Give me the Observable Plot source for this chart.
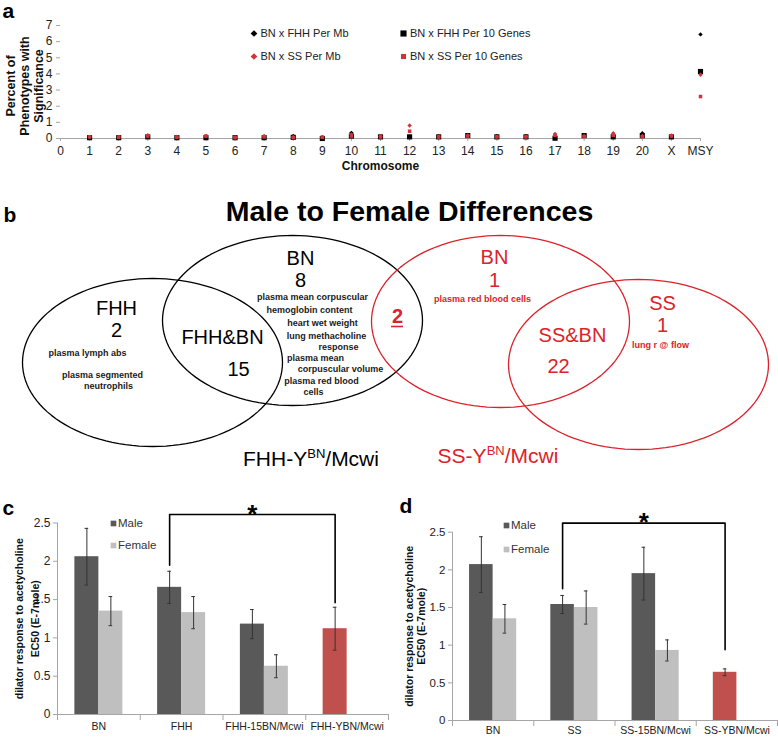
<!DOCTYPE html>
<html><head><meta charset="utf-8">
<script src="https://cdn.jsdelivr.net/npm/d3@7"></script>
<script src="https://cdn.jsdelivr.net/npm/@observablehq/plot@0.6"></script>
<style>
html,body{margin:0;padding:0;background:#fff;}
#page{position:relative;width:778px;height:737px;overflow:hidden;font-family:"Liberation Sans",Arial,sans-serif;}
.panel{position:absolute;}
.strain{position:absolute;transform:translate(-50%,-50%);font-size:21px;white-space:nowrap;line-height:1;}
.strain sup{font-size:0.62em;vertical-align:0.6em;line-height:0;}
</style></head><body><div id="page"></div>
<script>
// ---------- Panel a data ----------
const aXLabels = ["0","1","2","3","4","5","6","7","8","9","10","11","12","13","14","15","16","17","18","19","20","X","MSY"];
const chromosomes = aXLabels.slice(1);
const aYTicks = [0,1,2,3,4,5,6,7];
const fhhPerMb   = [0.05,0.05,0.10,0.05,0.05,0.05,0.05,0.15,0.02,0.35,0.10,0.12,0.12,0.22,0.15,0.15,0.05,0.20,0.15,0.32,0.10,6.45];
const fhhPer10   = [0.05,0.05,0.10,0.05,0.05,0.05,0.05,0.07,0.00,0.15,0.10,0.10,0.10,0.18,0.10,0.10,0.02,0.18,0.10,0.18,0.10,4.15];
const ssPerMb    = [0.10,0.10,0.20,0.10,0.15,0.08,0.15,0.10,0.10,0.25,0.12,0.80,0.10,0.18,0.12,0.12,0.28,0.15,0.32,0.15,0.18,3.95];
const ssPer10    = [0.10,0.08,0.15,0.08,0.15,0.05,0.10,0.05,0.08,0.15,0.10,0.45,0.10,0.15,0.10,0.10,0.20,0.12,0.20,0.10,0.15,2.60];
const aSeriesNames = ["BN x FHH Per Mb","BN x SS Per Mb","BN x FHH Per 10 Genes","BN x SS Per 10 Genes"];
const aYTitle = "Percent of\nPhenotypes with\nSignificance";
const aXTitle = "Chromosome";

// ---------- Panel b data ----------
const vennTitle = "Male to Female Differences";
const vennRegionNames  = ["FHH","FHH&BN","BN","BN","SS&BN","SS"];
const vennRegionCounts = [2, 15, 8, 1, 22, 1];
const sharedBNCount = 2;
const fhhPhenotypeLines = ["plasma lymph abs","plasma segmented","neutrophils"];
const bnPhenotypeLines = ["plasma mean corpuscular","hemoglobin content","heart wet weight","lung methacholine","response","plasma mean","corpuscular volume","plasma red blood","cells"];
const bnSsPhenotypeLines = ["plasma red blood cells"];
const ssPhenotypeLines = ["lung r @ flow"];
const strainNames = [["FHH-Y","BN","/Mcwi"],["SS-Y","BN","/Mcwi"]];

// ---------- Panels c, d data ----------
const sexes = ["Male","Female"];
const yTitleCD = "dilator response to acetycholine\nEC50 (E-7mole)";
const cdYTicks = [0,0.5,1,1.5,2,2.5];
const cCats = ["BN","FHH","FHH-15BN/Mcwi","FHH-YBN/Mcwi"];
const cMale = [2.06,1.66,1.18,1.12];
const cMaleErr = [0.37,0.21,0.19,0.28];
const cFemale = [1.35,1.33,0.63,null];
const cFemaleErr = [0.19,0.21,0.15,null];
const cBracket = {from:"FHH", to:"FHH-YBN/Mcwi", top:2.61, fromEnd:1.95, toEnd:1.46};
const dCats = ["BN","SS","SS-15BN/Mcwi","SS-YBN/Mcwi"];
const dMale = [2.07,1.54,1.95,0.64];
const dMaleErr = [0.37,0.12,0.35,0.045];
const dFemale = [1.35,1.50,0.93,null];
const dFemaleErr = [0.19,0.22,0.14,null];
const dBracket = {from:"SS", to:"SS-YBN/Mcwi", top:2.62, fromEnd:1.75, toEnd:0.94};

// ---------- styles ----------
const FONT = '"Liberation Sans", Arial, sans-serif';
const RED_A = "#d0343b", RED_V = "#dc222a", MALE = "#595959", FEMALE = "#bfbfbf", YBN = "#c0504d", AXIS = "#a6a6a6";
const page = document.getElementById("page");
function place(node, left, top) {
  const d = document.createElement("div");
  d.className = "panel"; d.style.left = left + "px"; d.style.top = top + "px";
  d.appendChild(node); page.appendChild(d); return d;
}
const baseStyle = {fontFamily: FONT, fontSize: "12px", background: "transparent", overflow: "visible", color: "#222"};

// ---------- Panel a ----------
const aRows = chromosomes.map((c, i) => ({pos: i + 1, chrom: c, fhhPerMb: fhhPerMb[i], fhhPer10: fhhPer10[i], ssPerMb: ssPerMb[i], ssPer10: ssPer10[i]}));
const aPlot = Plot.plot({
  width: 778, height: 170, marginLeft: 60, marginRight: 78, marginTop: 25, marginBottom: 32,
  x: {domain: [0, aXLabels.length - 1]}, y: {domain: [0, 7]},
  style: baseStyle,
  marks: [
    Plot.ruleY([0], {stroke: AXIS}),
    Plot.axisY({ticks: aYTicks, tickSize: 4, tickPadding: 4, stroke: AXIS, fill: "#222", fontSize: 12, label: null, tickFormat: d => String(d)}),
    Plot.axisX({ticks: aXLabels.map((_, i) => i), tickFormat: i => aXLabels[i], tickSize: 3, tickPadding: 5, stroke: AXIS, fill: "#222", fontSize: 12, label: null}),
    Plot.text([aXTitle], {frameAnchor: "bottom", lineAnchor: "middle", dy: 27.5, fontWeight: "bold", fontSize: 12, fill: "#111"}),
    Plot.text([aYTitle], {frameAnchor: "left", textAnchor: "middle", lineAnchor: "middle", rotate: -90, dx: -36, dy: 4, fontWeight: "bold", fontSize: 12.5, lineHeight: 1.12, fill: "#111"}),
    Plot.dot(aRows, {x: "pos", y: "fhhPerMb", symbol: "diamond2", r: 2, fill: "#000"}),
    Plot.dot(aRows, {x: "pos", y: "fhhPer10", symbol: "square", r: 2.9, fill: "#000"}),
    Plot.dot(aRows, {x: "pos", y: "ssPerMb", symbol: "diamond2", r: 2, fill: RED_A}),
    Plot.dot(aRows, {x: "pos", y: "ssPer10", symbol: "square", r: 2, fill: RED_A})
  ]
});
place(aPlot, 0, 0);

// ---------- Panels c / d ----------
function barPlot(cats, male, maleErr, female, femaleErr, bracket, cfg) {
  const bw = 0.29;
  const rows = [];
  cats.forEach((c, i) => {
    const isY = /YBN/.test(c);
    rows.push({cat: c, sex: "Male", xc: i + 0.5 - bw / 2, v: male[i], e: maleErr[i], fill: isY ? YBN : MALE});
    if (female[i] != null) rows.push({cat: c, sex: "Female", xc: i + 0.5 + bw / 2, v: female[i], e: femaleErr[i], fill: FEMALE});
  });
  const xm = c => cats.indexOf(c) + 0.5 - bw / 2;
  const br = [
    {x: xm(bracket.from), y: bracket.fromEnd}, {x: xm(bracket.from), y: bracket.top},
    {x: xm(bracket.to), y: bracket.top}, {x: xm(bracket.to), y: bracket.toEnd}
  ];
  return Plot.plot({
    width: cfg.width, height: 242, marginLeft: cfg.ml, marginRight: cfg.mr, marginTop: cfg.mt, marginBottom: cfg.mb,
    x: {domain: [0, cats.length]}, y: {domain: [0, 2.5]},
    style: baseStyle,
    marks: [
      Plot.rect(rows, {x1: d => d.xc - bw / 2, x2: d => d.xc + bw / 2, y1: 0, y2: "v", fill: "fill"}),
      Plot.ruleY([0], {stroke: AXIS}),
      Plot.ruleX([0], {stroke: AXIS}),
      Plot.axisY({ticks: cdYTicks, tickSize: 4, tickPadding: 3, stroke: AXIS, fill: "#222", fontSize: cfg.fs, label: null, tickFormat: d => String(d)}),
      Plot.axisX({ticks: cats.map((_, i) => i).concat([cats.length]), tickSize: 6, tickFormat: () => "", stroke: AXIS, label: null}),
      Plot.axisX({ticks: cats.map((_, i) => i + 0.5), tickSize: 0, tickPadding: cfg.tp, tickFormat: d => cats[Math.floor(d)], fill: "#222", fontSize: 10.5, label: null}),
      Plot.ruleX(rows, {x: "xc", y1: d => d.v - d.e, y2: d => d.v + d.e, stroke: "#333", strokeWidth: 1}),
      Plot.ruleY(rows, {x1: d => d.xc - 0.022, x2: d => d.xc + 0.022, y: d => d.v + d.e, stroke: "#333"}),
      Plot.ruleY(rows, {x1: d => d.xc - 0.022, x2: d => d.xc + 0.022, y: d => d.v - d.e, stroke: "#333"}),
      Plot.line(br, {x: "x", y: "y", stroke: "#000", strokeWidth: 1.6}),
      Plot.text(["*"], {x: (br[1].x + br[2].x) / 2, y: bracket.top, fontSize: 26, fontWeight: "bold", fill: "#000"}),
      Plot.text([yTitleCD], {frameAnchor: "left", textAnchor: "middle", lineAnchor: "middle", rotate: -90, dx: cfg.tdx, fontWeight: "bold", fontSize: 10.5, lineHeight: cfg.lh, fill: "#111"})
    ]
  });
}
place(barPlot(cCats, cMale, cMaleErr, cFemale, cFemaleErr, cBracket, {width: 390, ml: 57, mr: 2, mt: 27.5, mb: 23, fs: 12, tdx: -31.5, lh: 1.5, tp: 8}), 0, 495);
place(barPlot(dCats, dMale, dMaleErr, dFemale, dFemaleErr, dBracket, {width: 393, ml: 67, mr: 1, mt: 36.7, mb: 17, fs: 11.5, tdx: -37, lh: 1.15, tp: 6}), 385, 495);

// ---------- Overlay: panel letters, legends, Venn (b) ----------
const ellipses = [
  {cx: 152, cy: 362, rx: 130, ry: 84, color: "#000"},
  {cx: 292, cy: 320, rx: 130, ry: 85, color: "#000"},
  {cx: 500, cy: 321, rx: 129, ry: 86, color: RED_V},
  {cx: 638, cy: 364, rx: 130, ry: 85, color: RED_V}
];
function ellipsePts(e) { return d3.range(0, 361, 3).map(t => ({x: e.cx + e.rx * Math.cos(t * Math.PI / 180), y: e.cy + e.ry * Math.sin(t * Math.PI / 180)})); }
const regionPos = [[116,308,116,330],[222,337,238,369],[300,258,300,280],[494,257,494,280],[572,335,558,366],[662,303,662,325]];
const regionColor = ["#000","#000","#000",RED_V,RED_V,RED_V];
const regionText = [];
vennRegionNames.forEach((n, i) => {
  regionText.push({t: n, x: regionPos[i][0], y: regionPos[i][1], c: regionColor[i]});
  regionText.push({t: String(vennRegionCounts[i]), x: regionPos[i][2], y: regionPos[i][3], c: regionColor[i]});
});
const fhhPos = [[87,353],[102,375],[108,386]];
const bnPos = [[312,297],[309,310],[322,323],[326,336],[338,347],[315,358],[340,369],[321,381],[313,392]];
const smallBlack = fhhPhenotypeLines.map((t, i) => ({t, x: fhhPos[i][0], y: fhhPos[i][1]}))
  .concat(bnPhenotypeLines.map((t, i) => ({t, x: bnPos[i][0], y: bnPos[i][1]})));
const smallRed = [{t: bnSsPhenotypeLines[0], x: 482, y: 299}, {t: ssPhenotypeLines[0], x: 660, y: 345}];

const legendA = [
  {t: aSeriesNames[0], x: 253.5, y: 33, sym: "diamond2", r: 2, c: "#000"},
  {t: aSeriesNames[1], x: 253.5, y: 56, sym: "diamond2", r: 2, c: RED_A},
  {t: aSeriesNames[2], x: 403, y: 33, sym: "square", r: 2.6, c: "#000"},
  {t: aSeriesNames[3], x: 403, y: 56, sym: "square", r: 1.8, c: RED_A}
];
const legendCD = [
  {t: sexes[0], x: 113, y: 523, c: MALE}, {t: sexes[1], x: 113, y: 545, c: FEMALE},
  {t: sexes[0], x: 506, y: 525, c: MALE}, {t: sexes[1], x: 506, y: 549, c: FEMALE}
];
const letters = [{t: "a", x: 2, y: 17}, {t: "b", x: 3, y: 221}, {t: "c", x: 2, y: 514}, {t: "d", x: 399, y: 512}];

const overlay = Plot.plot({
  width: 778, height: 737, margin: 0,
  x: {domain: [0, 778], range: [0, 778], axis: null},
  y: {domain: [0, 737], range: [0, 737], axis: null},
  style: baseStyle,
  marks: [
    ...ellipses.map(e => Plot.line(ellipsePts(e), {x: "x", y: "y", stroke: e.color, strokeWidth: 1.3})),
    Plot.text([vennTitle], {x: 409, y: 211, fontSize: 28.5, fontWeight: "bold", fill: "#000"}),
    Plot.text(regionText, {x: "x", y: "y", text: "t", fill: "c", fontSize: 20}),
    Plot.text(smallBlack, {x: "x", y: "y", text: "t", fontSize: 9, fontWeight: "bold", fill: "#1a1a1a"}),
    Plot.text(smallRed, {x: "x", y: "y", text: "t", fontSize: 9, fontWeight: "bold", fill: RED_V}),
    Plot.text([String(sharedBNCount)], {x: 397, y: 316, fontSize: 20, fontWeight: "bold", fill: RED_V}),
    Plot.ruleY([326], {x1: 391, x2: 403, stroke: RED_V, strokeWidth: 1.6}),
    Plot.dot(legendA, {x: "x", y: "y", symbol: "sym", r: "r", fill: "c"}),
    Plot.text(legendA, {x: d => d.x + 6.5, y: "y", text: "t", textAnchor: "start", fontSize: 11, fill: "#222"}),
    Plot.dot(legendCD, {x: "x", y: "y", symbol: "square", r: 3.2, fill: "c"}),
    Plot.text(legendCD, {x: d => d.x + 4.5, y: "y", text: "t", textAnchor: "start", fontSize: 11.5, fill: "#333"}),
    Plot.text(letters, {x: "x", y: "y", text: "t", textAnchor: "start", lineAnchor: "bottom", fontSize: 21, fontWeight: "bold", fill: "#000"})
  ]
});
overlay.style.pointerEvents = "none";
place(overlay, 0, 0);

// strain labels with superscripts
[[311, 458, "#000"], [498, 455, RED_V]].forEach((p, i) => {
  const d = document.createElement("div");
  d.className = "strain"; d.style.left = p[0] + "px"; d.style.top = p[1] + "px"; d.style.color = p[2];
  const s = strainNames[i];
  d.append(document.createTextNode(s[0]));
  const sup = document.createElement("sup"); sup.textContent = s[1]; d.append(sup);
  d.append(document.createTextNode(s[2]));
  page.appendChild(d);
});
</script></body></html>
